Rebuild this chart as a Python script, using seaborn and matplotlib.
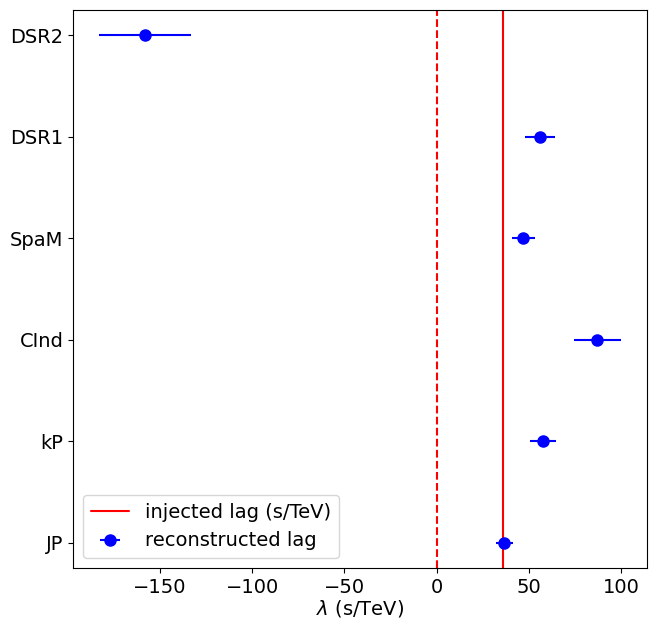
import numpy as np
import matplotlib
matplotlib.use("Agg")
import matplotlib.pyplot as plt
import seaborn as sns

# data
methods = ["JP", "kP", "CInd", "SpaM", "DSR1", "DSR2"]
lag = [36.5, 57.5, 87.0, 47.0, 56.0, -158.0]
lag_err = [4.6, 7.2, 12.7, 6.0, 8.0, 25.0]
injected = 36.0

sns.set_theme(style="ticks", rc={
    "axes.edgecolor": "black",
    "axes.linewidth": 0.8,
    "xtick.color": "black",
    "ytick.color": "black",
    "xtick.major.size": 3.5,
    "ytick.major.size": 3.5,
    "xtick.major.width": 0.8,
    "ytick.major.width": 0.8,
    "xtick.major.pad": 3.5,
    "ytick.major.pad": 3.5,
    "axes.labelcolor": "black",
    "text.color": "black",
})
plt.rcParams["font.family"] = ["DejaVu Sans"]
plt.rcParams["font.size"] = 14
plt.rcParams["xtick.labelsize"] = 14
plt.rcParams["ytick.labelsize"] = 14
plt.rcParams["axes.labelsize"] = 14
plt.rcParams["legend.fontsize"] = 14

fig, ax = plt.subplots(figsize=(6.52, 6.18), dpi=100)
fig.subplots_adjust(left=0.112, right=0.992, top=0.984, bottom=0.081)

ax.axvline(injected, color="red", lw=1.5, label="injected lag (s/TeV)")
ax.axvline(0, color="red", lw=1.5, ls="--")
ax.errorbar(lag, methods, xerr=lag_err, fmt="o", color="blue",
            markersize=8, elinewidth=1.5, label="reconstructed lag")

ax.set_xticks([-150, -100, -50, 0, 50, 100])
ax.set_xlabel(r"$\lambda$ (s/TeV)", labelpad=1)
ax.legend(loc="lower left", frameon=True, fancybox=True,
          edgecolor="0.8", framealpha=0.8)

plt.savefig("out.png", dpi=100)
